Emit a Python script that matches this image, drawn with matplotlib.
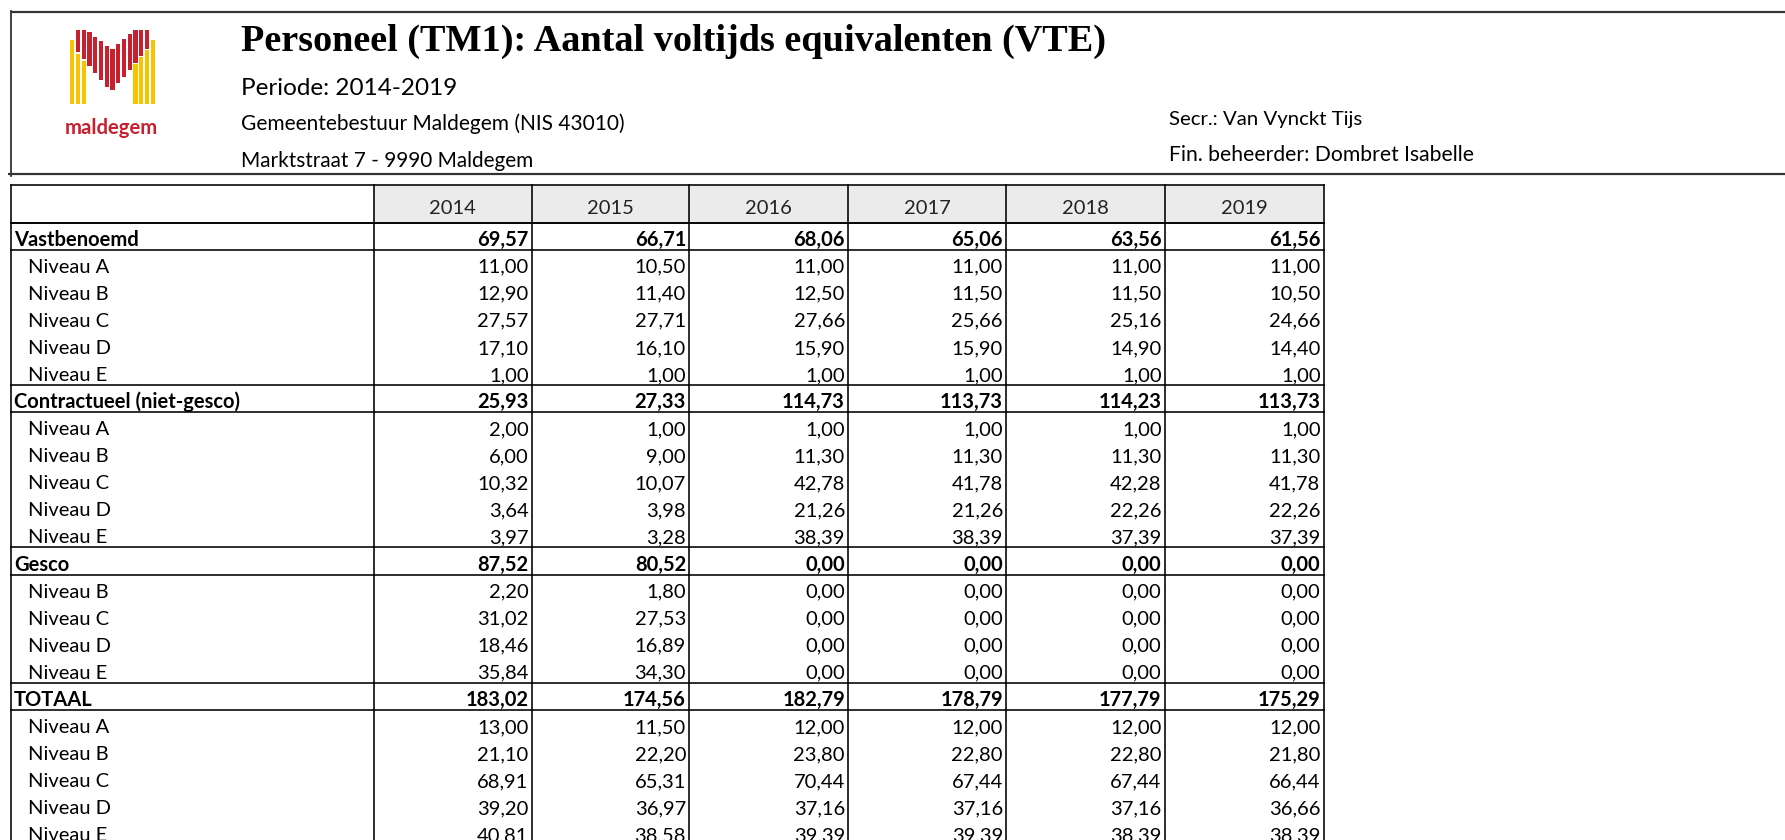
import matplotlib
matplotlib.use("Agg")
import matplotlib.pyplot as plt
from matplotlib.patches import Rectangle

# ---------------- data ----------------
years = ["2014", "2015", "2016", "2017", "2018", "2019"]

vast_total = [69.57, 66.71, 68.06, 65.06, 63.56, 61.56]
vast_A = [11.00, 10.50, 11.00, 11.00, 11.00, 11.00]
vast_B = [12.90, 11.40, 12.50, 11.50, 11.50, 10.50]
vast_C = [27.57, 27.71, 27.66, 25.66, 25.16, 24.66]
vast_D = [17.10, 16.10, 15.90, 15.90, 14.90, 14.40]
vast_E = [1.00, 1.00, 1.00, 1.00, 1.00, 1.00]

contr_total = [25.93, 27.33, 114.73, 113.73, 114.23, 113.73]
contr_A = [2.00, 1.00, 1.00, 1.00, 1.00, 1.00]
contr_B = [6.00, 9.00, 11.30, 11.30, 11.30, 11.30]
contr_C = [10.32, 10.07, 42.78, 41.78, 42.28, 41.78]
contr_D = [3.64, 3.98, 21.26, 21.26, 22.26, 22.26]
contr_E = [3.97, 3.28, 38.39, 38.39, 37.39, 37.39]

gesco_total = [87.52, 80.52, 0.00, 0.00, 0.00, 0.00]
gesco_B = [2.20, 1.80, 0.00, 0.00, 0.00, 0.00]
gesco_C = [31.02, 27.53, 0.00, 0.00, 0.00, 0.00]
gesco_D = [18.46, 16.89, 0.00, 0.00, 0.00, 0.00]
gesco_E = [35.84, 34.30, 0.00, 0.00, 0.00, 0.00]

tot_total = [183.02, 174.56, 182.79, 178.79, 177.79, 175.29]
tot_A = [13.00, 11.50, 12.00, 12.00, 12.00, 12.00]
tot_B = [21.10, 22.20, 23.80, 22.80, 22.80, 21.80]
tot_C = [68.91, 65.31, 70.44, 67.44, 67.44, 66.44]
tot_D = [39.20, 36.97, 37.16, 37.16, 37.16, 36.66]
tot_E = [40.81, 38.58, 39.39, 39.39, 38.39, 38.39]

rows = [
    ("Vastbenoemd", vast_total, True),
    ("Niveau A", vast_A, False), ("Niveau B", vast_B, False),
    ("Niveau C", vast_C, False), ("Niveau D", vast_D, False),
    ("Niveau E", vast_E, False),
    ("Contractueel (niet-gesco)", contr_total, True),
    ("Niveau A", contr_A, False), ("Niveau B", contr_B, False),
    ("Niveau C", contr_C, False), ("Niveau D", contr_D, False),
    ("Niveau E", contr_E, False),
    ("Gesco", gesco_total, True),
    ("Niveau B", gesco_B, False), ("Niveau C", gesco_C, False),
    ("Niveau D", gesco_D, False), ("Niveau E", gesco_E, False),
    ("TOTAAL", tot_total, True),
    ("Niveau A", tot_A, False), ("Niveau B", tot_B, False),
    ("Niveau C", tot_C, False), ("Niveau D", tot_D, False),
    ("Niveau E", tot_E, False),
]

title = "Personeel (TM1): Aantal voltijds equivalenten (VTE)"
periode = "Periode: 2014-2019"
bestuur = "Gemeentebestuur Maldegem (NIS 43010)"
adres = "Marktstraat 7 - 9990 Maldegem"
secr = "Secr.: Van Vynckt Tijs"
finb = "Fin. beheerder: Dombret Isabelle"

# ---------------- layout / style ----------------
W, H = 1785, 840
fig = plt.figure(figsize=(W / 100, H / 100), dpi=100)
ax = fig.add_axes([0, 0, 1, 1])
ax.set_xlim(0, W)
ax.set_ylim(H, 0)
ax.axis("off")
renderer = fig.canvas.get_renderer()

SANS = "Lato"
SERIF = "Liberation Serif"
PX = 0.72  # px -> pt for line widths


def fit(x, y, s, width, **kw):
    t = ax.text(x, y, s, **kw)
    bb = t.get_window_extent(renderer)
    t.set_fontsize(t.get_fontsize() * width / bb.width)
    return t


def fmt(v):
    return f"{v:.2f}".replace(".", ",")


# page header box
ax.plot([11, W], [11.5, 11.5], color="#333333", lw=2.2 * PX, solid_capstyle="butt")
ax.plot([8, W], [174, 174], color="#333333", lw=2.2 * PX, solid_capstyle="butt")
ax.plot([11, 11], [10.5, 176], color="#333333", lw=1.8 * PX)

# header texts
fit(241, 51, title, 868, fontsize=24, family=SERIF, fontweight="bold",
    color="black", va="baseline", ha="left")
fit(241, 95, periode, 217, fontsize=14, family=SANS, color="black",
    va="baseline", ha="left")
fit(241, 130, bestuur, 382, fontsize=12, family=SANS, color="black",
    va="baseline", ha="left")
fit(241, 167, adres, 291, fontsize=12, family=SANS, color="black",
    va="baseline", ha="left")
fit(1169, 125, secr, 193, fontsize=12, family=SANS, color="black",
    va="baseline", ha="left")
fit(1169, 161, finb, 303, fontsize=12, family=SANS, color="black",
    va="baseline", ha="left")

# logo (decorative striped M)
RED = "#C8202F"
YEL = "#F6C500"
cx = 111
SW = 4.3
for i in range(15):
    x = 70 + i * 5.75
    d = abs(x + SW / 2 - cx)
    if d < 24:
        top = 50 - d * 0.85
        bot = 92 - d * 1.2
        ax.add_patch(Rectangle((x, top), SW, bot - top, color=RED, lw=0))
    else:
        rb = 92 - d * 1.2
        if d < 38:
            ax.add_patch(Rectangle((x, 30), SW, rb - 30, color=RED, lw=0))
            ax.add_patch(Rectangle((x, rb + 1.5), SW, 104 - rb - 1.5, color=YEL, lw=0))
        else:
            ax.add_patch(Rectangle((x, 40), SW, 104 - 40, color=YEL, lw=0))
fit(111.5, 134, "maldegem", 93, fontsize=13, family=SANS, fontweight="bold",
    color=RED, va="baseline", ha="center")

# ---------------- table ----------------
col_edges = [11, 373.5, 531.5, 689, 848, 1006, 1164.5, 1323.5]
tab_top = 185
head_bot = 222.5
pitch = 27.08
LW = 1.6 * PX

# header fill
for j in range(len(years)):
    ax.add_patch(Rectangle((col_edges[j + 1], tab_top), col_edges[j + 2] - col_edges[j + 1],
                           head_bot - tab_top, facecolor="#EBEBEB", edgecolor="none"))

# font size for table: fit "Niveau A" to 81 px
probe = ax.text(0, 0, "Niveau A", fontsize=12, family=SANS)
fs = 12 * 81 / probe.get_window_extent(renderer).width
probe.remove()

for j, yr in enumerate(years):
    xm = (col_edges[j + 1] + col_edges[j + 2]) / 2
    ax.text(xm, 213.5, yr, fontsize=fs, family=SANS, color="#222222",
            ha="center", va="baseline")

hlines = [tab_top, head_bot]
for r, (label, vals, bold) in enumerate(rows):
    top = head_bot + r * pitch
    bot = top + pitch
    base = bot - 4
    w = "bold" if bold else "normal"
    lx = 14 if bold else 28
    ax.text(lx, base, label, fontsize=fs, family=SANS, fontweight=w,
            color="black", ha="left", va="baseline")
    for j, v in enumerate(vals):
        ax.text(col_edges[j + 2] - 3, base, fmt(v), fontsize=fs, family=SANS,
                fontweight=w, color="black", ha="right", va="baseline")
    if bold:
        hlines += [top, bot]

for y in hlines:
    ax.plot([col_edges[0], col_edges[-1]], [y, y], color="black", lw=LW,
            solid_capstyle="projecting")
for x in col_edges:
    ax.plot([x, x], [tab_top, H + 5], color="black", lw=LW)

fig.savefig("out.png", dpi=100)
